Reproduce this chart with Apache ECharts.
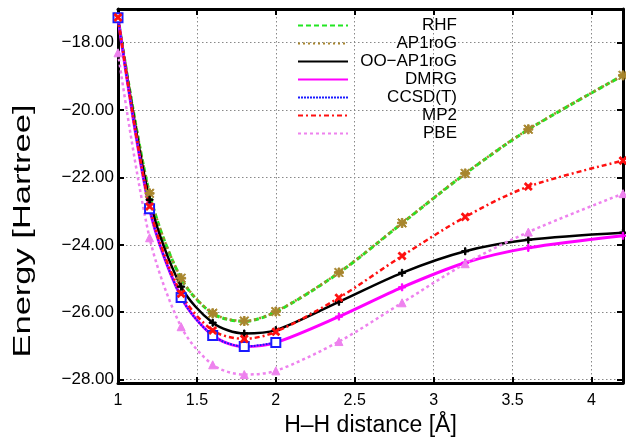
<!DOCTYPE html>
<html>
<head>
<meta charset="utf-8">
<script src="https://cdn.jsdelivr.net/npm/echarts@6.0.0/dist/echarts.min.js"></script>
<style>
  html, body { margin: 0; padding: 0; background: #ffffff; }
  #root { width: 626px; height: 440px; }
</style>
</head>
<body>
<div id="root"></div>
<script>
// H-H distance in Angstrom
const distance = [1.0, 1.2, 1.4, 1.6, 1.8, 2.0, 2.4, 2.8, 3.2, 3.6, 4.2];
const ccsdDistance = [1.0, 1.2, 1.4, 1.6, 1.8, 2.0];

// energies in Hartree
const rhf = [-17.25, -22.48, -25.0, -26.04, -26.27, -25.99, -24.83, -23.36, -21.89, -20.58, -18.97];
const ap1rog = [-17.25, -22.47, -24.99, -26.03, -26.26, -25.98, -24.82, -23.35, -21.88, -20.57, -18.97];
const ooAp1rog = [-17.25, -22.66, -25.24, -26.31, -26.63, -26.53, -25.69, -24.83, -24.19, -23.85, -23.64];
const dmrg = [-17.26, -22.93, -25.55, -26.69, -27.02, -26.9, -26.13, -25.26, -24.53, -24.09, -23.73];
const ccsdT = [-17.26, -22.93, -25.56, -26.69, -27.02, -26.9];
const mp2 = [-17.25, -22.86, -25.45, -26.54, -26.79, -26.58, -25.57, -24.33, -23.17, -22.27, -21.5];
const pbe = [-18.3, -23.79, -26.43, -27.56, -27.85, -27.74, -26.87, -25.72, -24.56, -23.62, -22.48];

const xTicks = [1, 1.5, 2, 2.5, 3, 3.5, 4];
const yTicks = [-28, -26, -24, -22, -20, -18];

const FONT = "Liberation Sans";
const plusPath = "path://M4,0H6V4H10V6H6V10H4V6H0V4H4Z";
const starPath = "path://M4,0H6V4H10V6H6V10H4V6H0V4H4Z M0,1L1,0L10,9L9,10Z M9,0L10,1L1,10L0,9Z";

const pairs = (xs, ys) => xs.map((x, i) => [x, ys[i]]);

const lineSeries = (name, xs, ys, color, type, width, symbol, size, extra) => {
  return Object.assign({
    name: name,
    type: "line",
    data: pairs(xs, ys),
    smooth: 0.3,
    symbol: symbol,
    symbolSize: size,
    showSymbol: symbol !== "none",
    lineStyle: { color: color, type: type, width: width },
    itemStyle: { color: color, borderColor: color },
    emphasis: { disabled: true },
  }, extra || {});
};

const chart = echarts.init(document.getElementById("root"), null, { renderer: "canvas" });

const axisLineStyle = { show: true, lineStyle: { color: "#000", width: 3 } };
const tickStyle = (values) => ({
  show: true, inside: true, length: 6, customValues: values,
  lineStyle: { color: "#000", width: 2 },
});

const option = {
  animation: false,
  backgroundColor: "#ffffff",
  grid: { left: 118, right: 3, top: 9, bottom: 57, outerBoundsMode: "none", containLabel: false },
  legend: {
    orient: "vertical",
    left: 292,
    top: 12,
    itemWidth: 50,
    itemHeight: 14,
    itemGap: 1,
    itemStyle: { opacity: 0 },
    selectedMode: false,
    formatter: "{t|{name}}",
    textStyle: {
      rich: {
        t: { width: 104, align: "right", fontSize: 17, fontFamily: FONT, color: "#000", lineHeight: 16 },
      },
    },
    data: ["RHF", "AP1roG", "OO\u2212AP1roG", "DMRG", "CCSD(T)", "MP2", "PBE"],
  },
  xAxis: [
    {
      type: "value", min: 1, max: 4.2, position: "bottom",
      name: "H\u2013H distance [\u00c5]", nameLocation: "middle", nameGap: 27,
      nameTextStyle: { fontSize: 23, fontFamily: FONT, color: "#000" },
      axisLine: axisLineStyle,
      axisTick: tickStyle(xTicks),
      axisLabel: { customValues: xTicks, margin: 10, fontSize: 16, fontFamily: FONT, color: "#000" },
      splitLine: { show: true, lineStyle: { color: "#888", width: 1, type: [1.5, 2.5] } },
    },
    {
      type: "value", min: 1, max: 4.2, position: "top",
      axisLine: axisLineStyle,
      axisTick: tickStyle(xTicks),
      axisLabel: { show: false },
      splitLine: { show: false },
    },
  ],
  yAxis: [
    {
      type: "value", min: -28.1, max: -17, position: "left",
      axisLine: axisLineStyle,
      axisTick: tickStyle(yTicks),
      axisLabel: {
        customValues: yTicks, margin: 4, fontSize: 17, fontFamily: FONT, color: "#000",
        formatter: (v) => v.toFixed(2).replace("-", "\u2212"),
      },
      splitLine: { show: true, lineStyle: { color: "#888", width: 1, type: [1.5, 2.5] } },
    },
    {
      type: "value", min: -28.1, max: -17, position: "right",
      axisLine: axisLineStyle,
      axisTick: tickStyle(yTicks),
      axisLabel: { show: false },
      splitLine: { show: false },
    },
  ],
  graphic: [
    {
      type: "text",
      x: 24, y: 231,
      rotation: Math.PI / 2,
      scaleX: 1.5,
      style: {
        text: "Energy [Hartree]",
        font: "23px " + FONT,
        fill: "#000",
        align: "center",
        verticalAlign: "middle",
      },
    },
  ],
  series: [
    lineSeries("RHF", distance, rhf, "#22e622", [5, 3], 3, "none", 0),
    lineSeries("AP1roG", distance, ap1rog, "#a8862e", [2, 3], 2.5, starPath, 9),
    lineSeries("OO\u2212AP1roG", distance, ooAp1rog, "#000000", "solid", 2.5, plusPath, 7),
    lineSeries("DMRG", distance, dmrg, "#ff00ff", "solid", 3, plusPath, 7),
    lineSeries("CCSD(T)", ccsdDistance, ccsdT, "#1a1aff", [2, 1], 2, "emptyRect", 9, {
      itemStyle: { color: "#1a1aff", borderColor: "#1a1aff", borderWidth: 1.5 },
    }),
    lineSeries("MP2", distance, mp2, "#ff1010", [5, 3, 2, 3], 2.5, plusPath, 9, { symbolRotate: 45 }),
    lineSeries("PBE", distance, pbe, "#ee82ee", [3, 3], 2.5, "triangle", 8),
  ],
};

chart.setOption(option);
</script>
</body>
</html>
